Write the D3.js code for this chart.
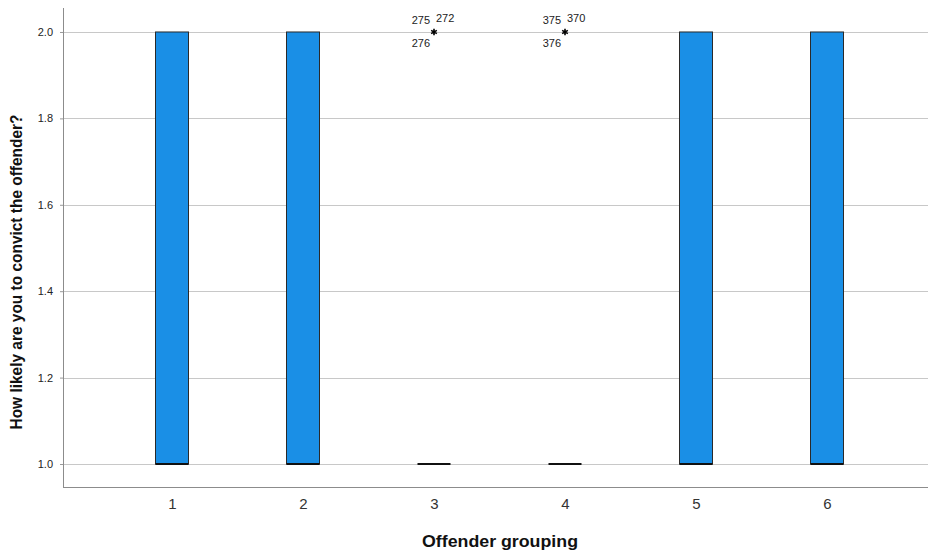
<!DOCTYPE html>
<html><head><meta charset="utf-8">
<script src="https://cdn.jsdelivr.net/npm/d3@7"></script>
<style>body{margin:0;background:#fff}svg{display:block;font-family:Arial,"Liberation Sans",sans-serif}</style>
</head><body><svg id="c" width="928" height="550"></svg>
<script>
const groups = ["1","2","3","4","5","6"];
const q1 = [1,1,1,1,1,1];
const median = [1,1,1,1,1,1];
const q3 = [2,2,1,1,2,2];
const outlierGroups = ["3","4"];
const outlierValues = [2,2];
const outlierLabels = [["275","272","276"],["375","370","376"]];
const yTicks = [1.0,1.2,1.4,1.6,1.8,2.0];

const svg = d3.select("#c");
const mLeft = 63, mRight = 928, mTop = 8, mBottom = 487;
const y = d3.scaleLinear().domain([0.9468, 2.0555]).range([mBottom, mTop]);
const x = d3.scalePoint().domain(groups).range([172, 827]);
const bw = 33;

// gridlines
svg.append("g").selectAll("line").data(yTicks).join("line")
  .attr("x1", mLeft).attr("x2", mRight)
  .attr("y1", d => Math.round(y(d)) + 0.5).attr("y2", d => Math.round(y(d)) + 0.5)
  .attr("stroke", "#c8c8c8").attr("stroke-width", 1);

// y axis
const ya = svg.append("g").attr("transform", `translate(${mLeft},0)`)
  .call(d3.axisLeft(y).tickValues(yTicks).tickFormat(d3.format(".1f")).tickSize(3).tickPadding(7));
ya.select(".domain").remove();
ya.selectAll(".tick line").attr("stroke", "#999");
ya.selectAll("text").attr("font-size", 11).attr("fill", "#222");
svg.append("line").attr("x1", mLeft + 0.5).attr("x2", mLeft + 0.5).attr("y1", mTop).attr("y2", mBottom)
  .attr("stroke", "#8c8c8c");

// x axis
const xa = svg.append("g").attr("transform", `translate(0,${mBottom})`)
  .call(d3.axisBottom(x).tickSize(0).tickPadding(11));
xa.select(".domain").remove();
xa.selectAll("text").attr("font-size", 15).attr("fill", "#333");
svg.append("line").attr("x1", mLeft).attr("x2", mRight).attr("y1", mBottom + 0.5).attr("y2", mBottom + 0.5)
  .attr("stroke", "#8c8c8c");

// boxes
const data = groups.map((g, i) => ({g, q1: q1[i], med: median[i], q3: q3[i]}));
const bx = svg.append("g");
bx.selectAll("rect").data(data.filter(d => d.q3 > d.q1)).join("rect")
  .attr("x", d => x(d.g) - bw / 2).attr("width", bw)
  .attr("y", d => y(d.q3)).attr("height", d => y(d.q1) - y(d.q3))
  .attr("fill", "#1a8fe6").attr("stroke", "#2a2a2a").attr("stroke-width", 1);
bx.selectAll("line.med").data(data).join("line").attr("class", "med")
  .attr("x1", d => x(d.g) - bw / 2).attr("x2", d => x(d.g) + bw / 2)
  .attr("y1", d => y(d.med)).attr("y2", d => y(d.med))
  .attr("stroke", "#111").attr("stroke-width", 2);

// outliers
const od = outlierGroups.map((g, i) => ({g, v: outlierValues[i], labels: outlierLabels[i]}));
const og = svg.append("g").selectAll("g").data(od).join("g")
  .attr("transform", d => `translate(${x(d.g)},${y(d.v)})`);
og.append("path").attr("d", d3.symbol(d3.symbolAsterisk, 30)).attr("stroke", "#000").attr("stroke-width", 1.6).attr("fill", "none");
og.append("text").text(d => d.labels[0]).attr("x", -4).attr("y", -8).attr("text-anchor", "end").attr("font-size", 11).attr("fill", "#222");
og.append("text").text(d => d.labels[1]).attr("x", 2).attr("y", -10).attr("text-anchor", "start").attr("font-size", 11).attr("fill", "#222");
og.append("text").text(d => d.labels[2]).attr("x", -4).attr("y", 15).attr("text-anchor", "end").attr("font-size", 11).attr("fill", "#222");

// titles
svg.append("text").text("Offender grouping").attr("x", 500).attr("y", 547)
  .attr("text-anchor", "middle").attr("font-size", 17).attr("font-weight", "bold").attr("fill", "#111")
  .attr("textLength", 156).attr("lengthAdjust", "spacingAndGlyphs");
svg.append("text").text("How likely are you to convict the offender?")
  .attr("transform", "translate(22,272) rotate(-90)")
  .attr("text-anchor", "middle").attr("font-size", 17).attr("font-weight", "bold").attr("fill", "#111")
  .attr("textLength", 315).attr("lengthAdjust", "spacingAndGlyphs");
</script></body></html>
